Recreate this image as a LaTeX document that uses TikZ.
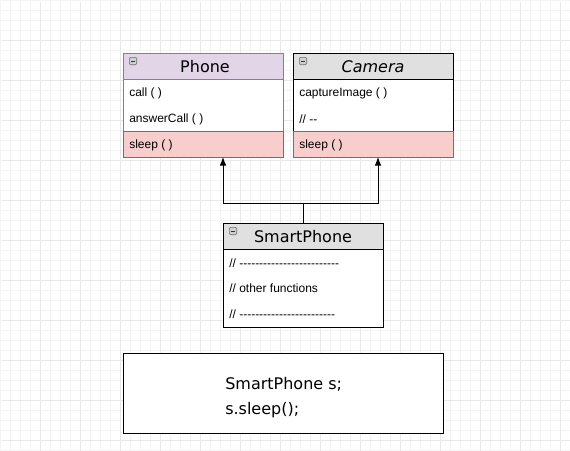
\documentclass[tikz,border=0pt]{standalone}
\usepackage{fontspec}
\setmainfont{Liberation Sans}
\newfontfamily\titlefont{DejaVu Sans}
\usetikzlibrary{arrows.meta}
\definecolor{gridminor}{HTML}{F4F4F4}
\definecolor{gridmajor}{HTML}{E8E8E8}
\definecolor{phonehdr}{HTML}{E1D5E7}
\definecolor{phoneline}{HTML}{9673A6}
\definecolor{sleepfill}{HTML}{F8CECC}
\definecolor{sleepline}{HTML}{B85450}
\definecolor{grayhdr}{HTML}{E0E0E0}
\definecolor{iconfill}{HTML}{D0D0D0}
\definecolor{iconline}{HTML}{707070}
\newcommand\hyph[1]{\foreach\i in {1,...,#1}{-\kern0pt}}
\tikzset{
  x=0.75pt, y=-0.75pt,
  part/.style={draw, line width=0.75pt, anchor=north west, minimum width=120pt, inner sep=0pt, outer sep=0pt},
  hdr/.style={part, minimum height=19.5pt},
  row/.style={anchor=west, inner sep=0pt, font=\fontsize{9pt}{10pt}\selectfont},
  ttl/.style={inner sep=0pt, font=\titlefont\fontsize{12pt}{14pt}\selectfont},
  icon/.style={draw=iconline, fill=iconfill, line width=0.5pt, rounded corners=0.8pt, minimum width=5.5pt, minimum height=5.5pt, inner sep=0pt, anchor=north west, path picture={\draw[line width=0.6pt,black!80] ([xshift=1.2pt]path picture bounding box.west) -- ([xshift=-1.2pt]path picture bounding box.east);}},
  inh/.style={line width=0.75pt, -{Latex[length=6.5pt,width=5pt]}}
}
\begin{document}
\begin{tikzpicture}
\useasboundingbox (0,0) rectangle (570,450);
\fill[white] (0,0) rectangle (570,450);
\draw[gridminor, line width=0.6pt] (-7,-7) grid[step=7.5pt] (577,457);
\draw[gridmajor, line width=0.75pt] (3,3) grid[step=30pt] (577,457);

% Phone
\node[hdr, draw=phoneline, fill=phonehdr] (phoneH) at (123,53) {};
\node[part, draw=phoneline, fill=white, minimum height=39pt] (phoneB) at (123,79) {};
\node[part, draw=sleepline, fill=sleepfill, minimum height=19.5pt] (phoneS) at (123,131) {};
\node[icon] (phoneI) at (129,57) {};
\node[ttl] (phoneT) at (205,67) {Phone};
\node[row] (phoneR1) at (129,93) {call ( )};
\node[row] (phoneR2) at (129,119) {answerCall ( )};
\node[row] (phoneR3) at (129,145) {sleep ( )};

% Camera
\node[hdr, fill=grayhdr] (camH) at (293,53) {};
\node[part, fill=white, minimum height=39pt] (camB) at (293,79) {};
\node[part, draw=sleepline, fill=sleepfill, minimum height=19.5pt] (camS) at (293,131) {};
\node[icon] (camI) at (299,57) {};
\node[ttl, font=\titlefont\itshape\fontsize{12pt}{14pt}\selectfont] (camT) at (373,67) {Camera};
\node[row] (camR1) at (299,93) {captureImage ( )};
\node[row] (camR2) at (299,119) {// \hyph{2}};
\node[row] (camR3) at (299,145) {sleep ( )};

% SmartPhone
\node[hdr, fill=grayhdr] (spH) at (223,223) {};
\node[part, fill=white, minimum height=58.5pt] (spB) at (223,249) {};
\node[icon] (spI) at (229,227) {};
\node[ttl] (spT) at (303,237) {SmartPhone};
\node[row] (spR1) at (229,263) {// \hyph{25}};
\node[row] (spR2) at (229,288) {// other functions};
\node[row] (spR3) at (229,314) {// \hyph{24}};

% inheritance connectors
\coordinate (join) at (303,203);
\coordinate (phoneTip) at (223,157);
\coordinate (camTip) at (378,157);
\draw[line width=0.75pt] (spH.north) -- (join);
\draw[inh] (join) -| (phoneTip);
\draw[inh] (join) -| (camTip);

% code box
\node[draw, line width=0.75pt, fill=white, anchor=north west, minimum width=240pt, minimum height=60pt, inner sep=0pt] (code) at (123,353) {};
\node[anchor=north west, inner sep=0pt, align=left, font=\titlefont\fontsize{12pt}{18.75pt}\selectfont] (codeT) at (225,377) {SmartPhone s;\\s.sleep();};
\end{tikzpicture}
\end{document}
